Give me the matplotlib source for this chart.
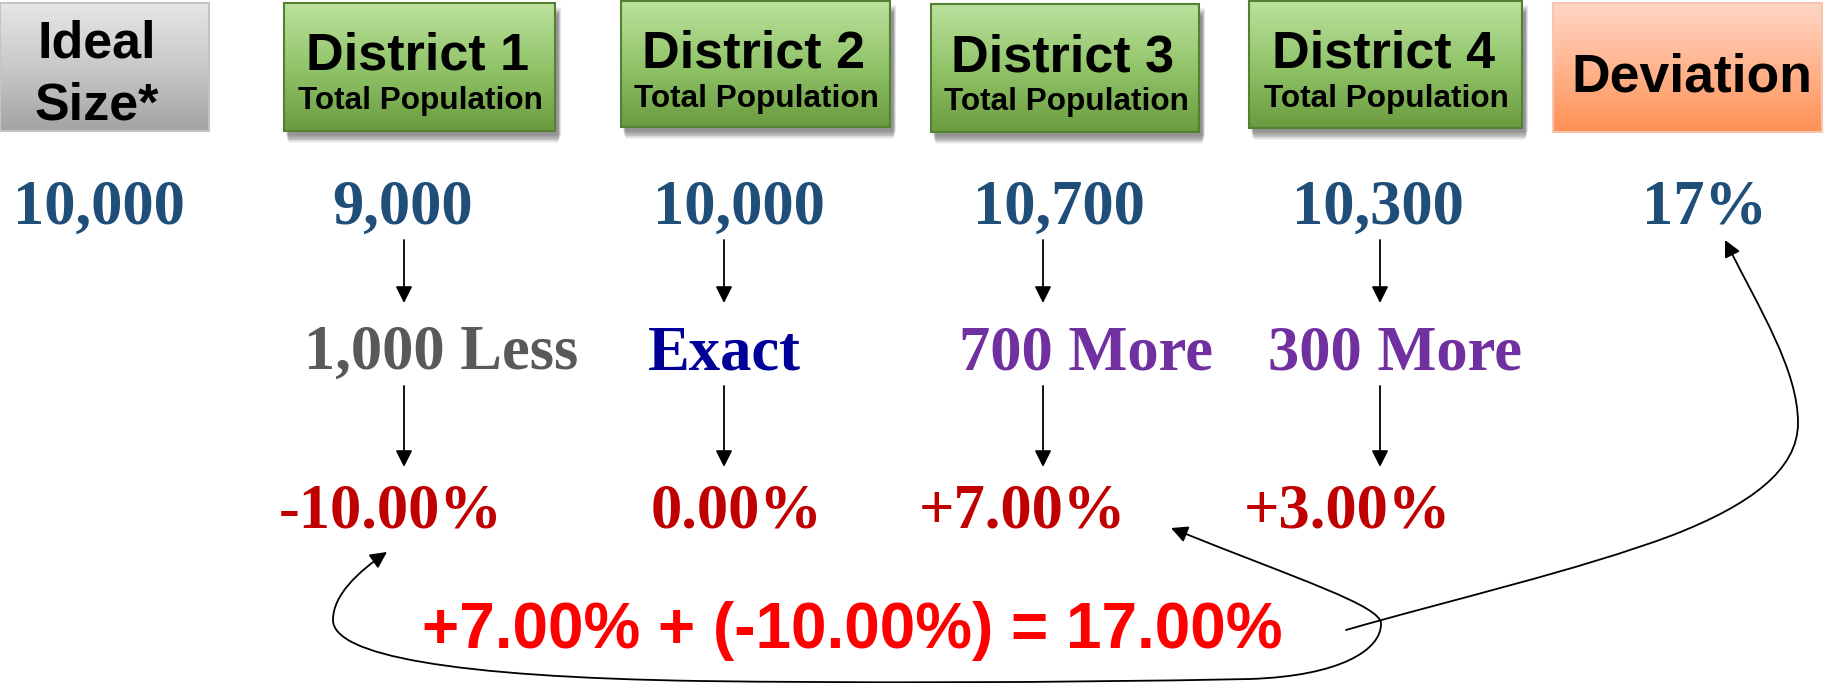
import numpy as np
import matplotlib
matplotlib.use("Agg")
import matplotlib.pyplot as plt
from matplotlib.colors import LinearSegmentedColormap
from matplotlib.patches import Rectangle, FancyArrowPatch
from matplotlib.path import Path

# ---------------- data ----------------
header_titles = ["Ideal", "District 1", "District 2", "District 3", "District 4", "Deviation"]
header_subtitles = ["Size*", "Total Population", "Total Population", "Total Population", "Total Population", ""]
population_labels = ["10,000", "9,000", "10,000", "10,700", "10,300", "17%"]
difference_labels = ["1,000 Less", "Exact", "700 More", "300 More"]
difference_colors = ["#595959", "#000099", "#7030A0", "#7030A0"]
percent_labels = ["-10.00%", "0.00%", "+7.00%", "+3.00%"]
formula_text = "+7.00% + (-10.00%) = 17.00%"

# ---------------- layout (pixel space) ----------------
W, H = 1831, 683
fig = plt.figure(figsize=(W / 100, H / 100), dpi=100)
ax = fig.add_axes([0, 0, 1, 1])
ax.set_xlim(0, W)
ax.set_ylim(H, 0)
ax.axis("off")

boxes = [(0, 209, 3, 131), (284, 555, 3, 131), (621, 890, 1, 127),
         (931, 1199, 4, 132), (1249, 1522, 1, 128), (1553, 1822, 3, 132)]
box_styles = ["gray", "green", "green", "green", "green", "orange"]
grad = {
    "gray": (["#E6E6E6", "#C9C9C9", "#A3A3A3"], "#C4C4C4"),
    "green": (["#BCE29E", "#92C46A", "#6A9B3F"], "#557F33"),
    "orange": (["#FFD6C6", "#FFB48E", "#FF9155"], "#F7C5AE"),
}

for (x0, x1, y0, y1), st in zip(boxes, box_styles):
    cols, edge = grad[st]
    if st == "green":
        # soft drop shadow
        for k in range(10):
            ax.add_patch(Rectangle((x0 + 2 + k * 0.3, y0 + 4 + k * 0.9),
                                   (x1 - x0) - 2 * k * 0.3 + 4, (y1 - y0),
                                   facecolor="black", edgecolor="none", alpha=0.05, zorder=1))
    cmap = LinearSegmentedColormap.from_list(st, cols)
    ax.imshow(np.linspace(0, 1, 256).reshape(-1, 1), cmap=cmap, aspect="auto",
              extent=(x0, x1, y1, y0), origin="upper", zorder=2, interpolation="bilinear")
    ax.add_patch(Rectangle((x0, y0), x1 - x0, y1 - y0, facecolor="none",
                           edgecolor=edge, lw=1.5, zorder=3))

ax.set_xlim(0, W)
ax.set_ylim(H, 0)

sans = "Liberation Sans"
serif = "Liberation Serif"

# header texts
for i, ((x0, x1, y0, y1), t, s) in enumerate(zip(boxes, header_titles, header_subtitles)):
    cx = (x0 + x1) / 2
    if i == 0:
        ax.text(cx - 8, y0 + 55, t, family=sans, weight="bold", fontsize=37.5,
                ha="center", va="baseline", color="black", zorder=4)
        ax.text(cx - 8, y0 + 117, s, family=sans, weight="bold", fontsize=37.5,
                ha="center", va="baseline", color="black", zorder=4)
    elif i == 5:
        ax.text(cx + 4, y0 + 88, t, family=sans, weight="bold", fontsize=38.5,
                ha="center", va="baseline", color="black", zorder=4)
    else:
        ax.text(cx - 2, y0 + 67, t, family=sans, weight="bold", fontsize=37.5,
                ha="center", va="baseline", color="black", zorder=4)
        ax.text(cx + 1, y0 + 106, s, family=sans, weight="bold", fontsize=22.7,
                ha="center", va="baseline", color="black", zorder=4)

# row 1: populations
row1_x = [99, 403, 739, 1059, 1378, 1705]
for x, lab in zip(row1_x, population_labels):
    ax.text(x, 224, lab, family=serif, weight="bold", fontsize=45,
            ha="center", va="baseline", color="#1F4E79")

# vertical arrows
arrow_x = [404, 724, 1043, 1380]
for x in arrow_x:
    for ys, ye in [(240, 303), (386, 467)]:
        ax.annotate("", xy=(x, ye), xytext=(x, ys),
                    arrowprops=dict(arrowstyle="-|>,head_length=1.0,head_width=0.5",
                                    mutation_scale=10, lw=1.3, color="black",
                                    shrinkA=0, shrinkB=0))

# row 2: differences
row2_x = [441, 724, 1086, 1395]
for x, lab, c in zip(row2_x, difference_labels, difference_colors):
    ax.text(x, 369, lab, family=serif, weight="bold", fontsize=45,
            ha="center", va="baseline", color=c)

# row 3: percentages
row3_x = [391, 737, 1022, 1347]
for x, lab in zip(row3_x, percent_labels):
    ax.text(x, 527, lab, family=serif, weight="bold", fontsize=45,
            ha="center", va="baseline", color="#C00000")

# formula
ax.text(852, 648, formula_text, family=sans, weight="bold", fontsize=46,
        ha="center", va="baseline", color="#FF0000")

# connector curves
C4 = Path.CURVE4
loop_verts = [(1171, 528),
              (1300, 580), (1382, 606), (1381, 624),
              (1381, 650), (1340, 676), (1250, 679),
              (1050, 683), (850, 683), (700, 681),
              (450, 677), (333, 655), (333, 620),
              (333, 595), (358, 572), (387, 552)]
loop_codes = [Path.MOVETO] + [C4] * 15
ax.add_patch(FancyArrowPatch(path=Path(loop_verts, loop_codes),
                             arrowstyle="<|-|>,head_length=1.0,head_width=0.5",
                             mutation_scale=10, lw=1.3, color="black"))

dev_verts = [(1346, 630),
             (1450, 600), (1580, 570), (1673, 535),
             (1750, 505), (1798, 470), (1798, 423),
             (1798, 370), (1760, 310), (1725, 240)]
dev_codes = [Path.MOVETO] + [C4] * 9
ax.add_patch(FancyArrowPatch(path=Path(dev_verts, dev_codes),
                             arrowstyle="-|>,head_length=1.0,head_width=0.5",
                             mutation_scale=10, lw=1.3, color="black"))

fig.savefig("out.png", dpi=100, facecolor="white")
